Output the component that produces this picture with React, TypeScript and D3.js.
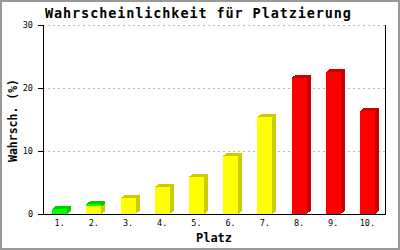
import React from "react";
import * as d3 from "d3";

const categories = ["1.", "2.", "3.", "4.", "5.", "6.", "7.", "8.", "9.", "10."];
const greenValues = [0.8, 0.4, 0, 0, 0, 0, 0, 0, 0, 0];
const yellowValues = [0, 1.2, 2.5, 4.3, 5.9, 9.25, 15.4, 0, 0, 0];
const redValues = [0, 0, 0, 0, 0, 0, 0, 21.6, 22.5, 16.35];
const yTicks = [0, 10, 20, 30];

const seriesDefs = [
  { key: "yellow", values: yellowValues, front: "#FFFF00", dark: "#CCCC00" },
  { key: "green", values: greenValues, front: "#00FF00", dark: "#00CC00" },
  { key: "red", values: redValues, front: "#FF0000", dark: "#CC0000" },
];

const W = 400, H = 250;
const left = 43, right = 385, top = 25, bottom = 214;
const DX = 4, DY = 3, BW = 15;
const mono = "'DejaVu Sans Mono', monospace";

export default function App() {
  const x = d3.scaleBand<string>().domain(categories).range([left, right]).padding(0);
  const y = d3.scaleLinear().domain([0, 30]).range([bottom, top]);

  const rows = categories.map((c, i) => {
    const r: any = { cat: c };
    seriesDefs.forEach((s) => (r[s.key] = s.values[i]));
    return r;
  });
  const stack = d3.stack<any>().keys(seriesDefs.map((s) => s.key));
  const stacked = stack(rows);

  const bars: React.ReactNode[] = [];
  categories.forEach((c, i) => {
    const cx = (x(c) as number) + x.bandwidth() / 2;
    const x0 = cx - 8;
    const x1 = x0 + BW;
    const segs = stacked
      .map((layer, si) => ({ def: seriesDefs[si], lo: layer[i][0], hi: layer[i][1] }))
      .filter((s) => s.hi - s.lo > 0);
    segs.forEach((s, k) => {
      const yt = y(s.hi);
      const yb = y(s.lo);
      const isTop = k === segs.length - 1;
      bars.push(
        <g key={`${c}-${s.def.key}`}>
          <polygon
            points={`${x1},${yb} ${x1},${yt} ${x1 + DX},${yt - DY} ${x1 + DX},${yb - DY}`}
            fill={s.def.dark}
          />
          {isTop && (
            <polygon
              points={`${x0},${yt} ${x0 + DX},${yt - DY} ${x1 + DX},${yt - DY} ${x1},${yt}`}
              fill={s.def.dark}
            />
          )}
          <rect x={x0} y={yt} width={BW} height={yb - yt} fill={s.def.front} />
        </g>
      );
    });
  });

  return (
    <svg
      width={W}
      height={H}
      style={{ position: "fixed", left: 0, top: 0, background: "#fff" }}
      shapeRendering="crispEdges"
    >
      <rect x={0} y={0} width={W} height={H} fill="#fff" />
      <rect x={1} y={1} width={W - 2} height={H - 2} fill="none" stroke="#999" strokeWidth={2} />
      {yTicks
        .filter((t) => t > 0)
        .map((t) => (
          <line
            key={`g${t}`}
            x1={left}
            x2={right}
            y1={y(t) + 0.5}
            y2={y(t) + 0.5}
            stroke="#bbb"
            strokeDasharray="2,3"
          />
        ))}
      {bars}
      <line x1={left + 0.5} x2={left + 0.5} y1={top} y2={bottom + 1} stroke="#000" />
      <line x1={right + 0.5} x2={right + 0.5} y1={top} y2={bottom + 1} stroke="#000" />
      <line x1={left - 5} x2={right + 1} y1={bottom + 0.5} y2={bottom + 0.5} stroke="#000" />
      {yTicks.map((t) => (
        <g key={`t${t}`}>
          <line x1={left - 5} x2={left} y1={y(t) + 0.5} y2={y(t) + 0.5} stroke="#000" />
          <text
            x={33}
            y={y(t) + 0.5}
            textAnchor="end"
            dominantBaseline="middle"
            fontFamily={mono}
            fontSize={8.5}
            fill="#000"
          >
            {t}
          </text>
        </g>
      ))}
      {categories.map((c) => (
        <text
          key={`x${c}`}
          x={(x(c) as number) + x.bandwidth() / 2 - 0.5}
          y={223}
          textAnchor="middle"
          dominantBaseline="middle"
          fontFamily={mono}
          fontSize={8.5}
          fill="#000"
        >
          {c}
        </text>
      ))}
      <text
        x={45}
        y={17.5}
        fontFamily={mono}
        fontWeight="bold"
        fontSize={13.5}
        textLength={306}
        lengthAdjust="spacing"
        fill="#000"
      >
        Wahrscheinlichkeit für Platzierung
      </text>
      <text
        x={(left + right) / 2}
        y={242}
        textAnchor="middle"
        fontFamily={mono}
        fontWeight="bold"
        fontSize={12}
        fill="#000"
      >
        Platz
      </text>
      <text
        transform={`translate(17, ${(top + bottom) / 2 + 1}) rotate(-90)`}
        textAnchor="middle"
        fontFamily={mono}
        fontWeight="bold"
        fontSize={11.5}
        fill="#000"
      >
        Wahrsch. (%)
      </text>
    </svg>
  );
}
